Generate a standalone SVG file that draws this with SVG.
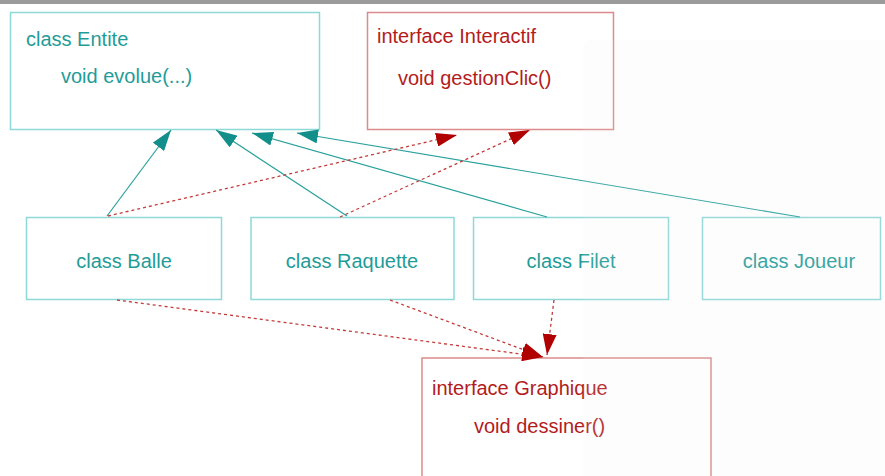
<svg xmlns="http://www.w3.org/2000/svg" width="885" height="476" viewBox="0 0 885 476">
<defs>
<style>
.t{font-family:"Liberation Sans",Arial,sans-serif;font-size:20px}
.teal{fill:#1f9c98}
.red{fill:#b31c1c}
.bt{fill:#ffffff;stroke:#8fd8d8;stroke-width:1.5}
.br{fill:#ffffff;stroke:#dc8a8a;stroke-width:1.5}
.lt{stroke:#2aa19d;stroke-width:1.2;fill:none;marker-end:url(#at)}
.lr{stroke:#c43a3a;stroke-width:1.3;fill:none;stroke-dasharray:3 3;marker-end:url(#ar)}
</style>
<marker id="at" markerUnits="userSpaceOnUse" markerWidth="22" markerHeight="14" refX="21" refY="7" orient="auto"><path d="M0,0 L21,7 L0,14 z" fill="#128f8b"/></marker>
<marker id="ar" markerUnits="userSpaceOnUse" markerWidth="22" markerHeight="14" refX="21" refY="7" orient="auto"><path d="M0,0 L21,7 L0,14 z" fill="#b00000"/></marker>
</defs>
<rect x="0" y="0" width="885" height="476" fill="#ffffff"/>
<rect x="0" y="0" width="885" height="4" fill="#9b9b9b"/>

<g id="entite"><rect class="bt" x="10.5" y="12.5" width="309" height="117"/>
<text class="t teal" x="26" y="46">class Entite</text>
<text class="t teal" x="61" y="83">void evolue(...)</text></g>

<g id="interactif"><rect class="br" x="367.5" y="12.5" width="246" height="117"/>
<text class="t red" x="377" y="43">interface Interactif</text>
<text class="t red" x="398" y="85">void gestionClic()</text></g>

<g id="balle"><rect class="bt" x="26.5" y="217.5" width="195" height="82"/>
<text class="t teal" x="124" y="268" text-anchor="middle">class Balle</text></g>

<g id="raquette"><rect class="bt" x="251" y="217.5" width="203" height="82"/>
<text class="t teal" x="352" y="268" text-anchor="middle">class Raquette</text></g>

<g id="filet"><rect class="bt" x="473.5" y="217.5" width="195" height="82"/>
<text class="t teal" x="571" y="268" text-anchor="middle">class Filet</text></g>

<g id="joueur"><rect class="bt" x="702.5" y="217.5" width="178" height="82"/>
<text class="t teal" x="799" y="268" text-anchor="middle">class Joueur</text></g>

<g id="graphique"><rect class="br" x="422" y="358" width="289" height="130"/>
<text class="t red" x="432" y="395">interface Graphique</text>
<text class="t red" x="474" y="433">void dessiner()</text></g>

<g id="connectors">
<line class="lt" x1="107" y1="216" x2="171" y2="130"/>
<line class="lt" x1="347" y1="216" x2="216" y2="130"/>
<line class="lt" x1="547" y1="217" x2="252" y2="133"/>
<line class="lt" x1="800" y1="217" x2="297" y2="133"/>
<line class="lr" x1="108" y1="216" x2="457" y2="135"/>
<line class="lr" x1="340" y1="217" x2="530" y2="130"/>
<line class="lr" x1="117" y1="300" x2="543" y2="357"/>
<line class="lr" x1="390" y1="300" x2="543" y2="357"/>
<line class="lr" x1="554" y1="300" x2="547" y2="355"/>
</g>

<rect x="583" y="40" width="310" height="450" rx="8" fill="#eef0f4" opacity="0.12"/>
</svg>
